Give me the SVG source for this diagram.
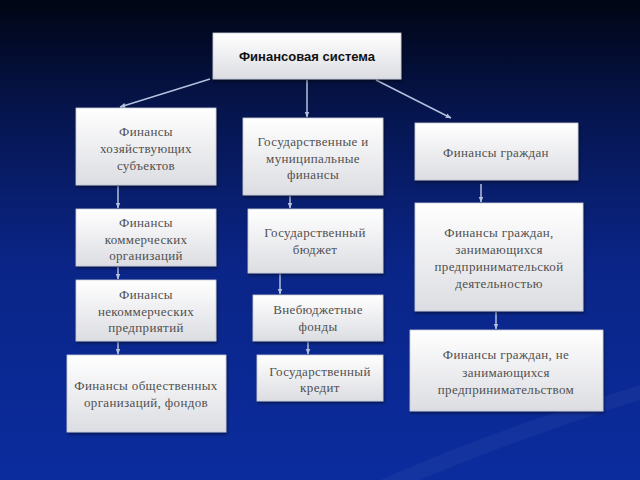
<svg xmlns="http://www.w3.org/2000/svg" width="640" height="480" viewBox="0 0 640 480">
<defs>
<linearGradient id="bg" x1="0" y1="0" x2="0" y2="1">
<stop offset="0" stop-color="#010513"/>
<stop offset="0.25" stop-color="#061652"/>
<stop offset="0.55" stop-color="#0a2587"/>
<stop offset="1" stop-color="#0b2c9e"/>
</linearGradient>
<linearGradient id="box" x1="0" y1="0" x2="0" y2="1">
<stop offset="0" stop-color="#ffffff"/>
<stop offset="1" stop-color="#dcdde2"/>
</linearGradient>
<filter id="sh" x="-10%" y="-10%" width="120%" height="130%">
<feDropShadow dx="1" dy="2" stdDeviation="1.5" flood-color="#000" flood-opacity="0.45"/>
</filter>
<marker id="ah" viewBox="0 0 10 10" refX="9" refY="5" markerWidth="4" markerHeight="4" orient="auto">
<path d="M0,1 L10,5 L0,9 z" fill="#b4c0dc"/>
</marker>
<style>
.b{fill:url(#box);stroke:#c8cad4;stroke-width:0.8;filter:url(#sh)}
.t{font-family:"Liberation Serif","Times New Roman",serif;font-size:13px;letter-spacing:0.35px;fill:#505050;text-anchor:middle}
.h{font-family:"Liberation Sans",Arial,sans-serif;font-size:13px;font-weight:bold;fill:#111;text-anchor:middle}
.c{stroke:#b4c0dc;stroke-width:1.5;fill:none;marker-end:url(#ah)}
</style>
</defs>
<rect width="640" height="480" fill="url(#bg)"/>
<path d="M380,480 C470,440 560,410 640,385 L640,400 C560,425 480,455 420,480 z" fill="#ffffff" opacity="0.04"/>
<g id="connectors">
<line class="c" x1="210" y1="79" x2="120" y2="107"/>
<line class="c" x1="307" y1="80" x2="307" y2="117"/>
<line class="c" x1="376" y1="80" x2="451" y2="118"/>
<line class="c" x1="118" y1="186" x2="118" y2="208"/>
<line class="c" x1="118" y1="267" x2="118" y2="279"/>
<line class="c" x1="118" y1="342" x2="118" y2="354"/>
<line class="c" x1="290" y1="196" x2="290" y2="208"/>
<line class="c" x1="280" y1="274" x2="280" y2="294"/>
<line class="c" x1="308" y1="342" x2="308" y2="354"/>
<line class="c" x1="481" y1="184" x2="481" y2="202"/>
<line class="c" x1="496" y1="312" x2="496" y2="329"/>
</g>
<g id="n1"><rect class="b" x="213" y="33" width="188" height="46"/><text class="h" x="307" y="61">Финансовая система</text></g>
<g id="n2"><rect class="b" x="76" y="108" width="140" height="77"/><text class="t" x="146" y="136">Финансы</text><text class="t" x="146" y="153">хозяйствующих</text><text class="t" x="146" y="170">субъектов</text></g>
<g id="n3"><rect class="b" x="243" y="118" width="140" height="77"/><text class="t" x="313" y="146">Государственные и</text><text class="t" x="313" y="163">муниципальные</text><text class="t" x="313" y="179">финансы</text></g>
<g id="n4"><rect class="b" x="415" y="123" width="163" height="57"/><text class="t" x="496" y="157">Финансы граждан</text></g>
<g id="n5"><rect class="b" x="76" y="209" width="140" height="57"/><text class="t" x="146" y="227">Финансы</text><text class="t" x="146" y="244">коммерческих</text><text class="t" x="146" y="260">организаций</text></g>
<g id="n6"><rect class="b" x="76" y="280" width="140" height="61"/><text class="t" x="146" y="299">Финансы</text><text class="t" x="146" y="316">некоммерческих</text><text class="t" x="146" y="332">предприятий</text></g>
<g id="n7"><rect class="b" x="67" y="355" width="159" height="77"/><text class="t" x="146" y="390">Финансы общественных</text><text class="t" x="146" y="407">организаций, фондов</text></g>
<g id="n8"><rect class="b" x="248" y="209" width="135" height="64"/><text class="t" x="315" y="237">Государственный</text><text class="t" x="315" y="254">бюджет</text></g>
<g id="n9"><rect class="b" x="253" y="295" width="130" height="46"/><text class="t" x="318" y="314">Внебюджетные</text><text class="t" x="318" y="331">фонды</text></g>
<g id="n10"><rect class="b" x="257" y="355" width="126" height="46"/><text class="t" x="320" y="376">Государственный</text><text class="t" x="320" y="392">кредит</text></g>
<g id="n11"><rect class="b" x="415" y="203" width="168" height="108"/><text class="t" x="499" y="237">Финансы граждан,</text><text class="t" x="499" y="254">занимающихся</text><text class="t" x="499" y="271">предпринимательской</text><text class="t" x="499" y="288">деятельностью</text></g>
<g id="n12"><rect class="b" x="410" y="330" width="193" height="81"/><text class="t" x="506" y="359">Финансы граждан, не</text><text class="t" x="506" y="377">занимающихся</text><text class="t" x="506" y="394">предпринимательством</text></g>
</svg>
